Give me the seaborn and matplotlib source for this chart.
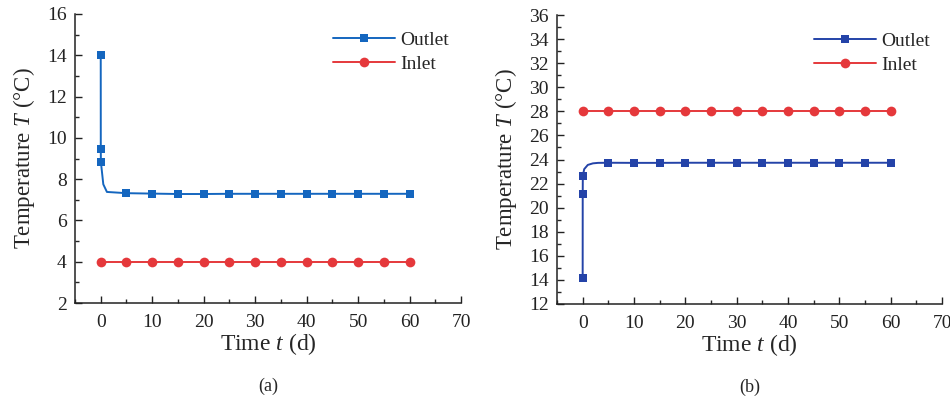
import matplotlib
matplotlib.use("Agg")
import matplotlib.pyplot as plt
from matplotlib.ticker import MultipleLocator
import seaborn as sns
import pandas as pd

# ---- data -------------------------------------------------------------
# (a) cold condition
t_out_a = [0, 0.01, 0.03, 0.5, 1.2, 5, 10, 15, 20, 25, 30, 35, 40, 45, 50, 55, 60]
T_out_a = [14.0, 9.44, 8.83, 7.75, 7.38, 7.32, 7.30, 7.28, 7.28, 7.29, 7.29, 7.29,
           7.29, 7.29, 7.29, 7.29, 7.29]
mark_a = [0, 1, 2, 5, 6, 7, 8, 9, 10, 11, 12, 13, 14, 15, 16]

t_in = [0, 5, 10, 15, 20, 25, 30, 35, 40, 45, 50, 55, 60]
T_in_a = [4.0] * 13

# (b) hot condition
t_out_b = [0, 0.01, 0.03, 0.3, 1, 2, 3, 5, 10, 15, 20, 25, 30, 35, 40, 45, 50, 55, 60]
T_out_b = [14.13, 21.11, 22.65, 23.2, 23.55, 23.68, 23.72, 23.73, 23.72, 23.72, 23.73,
           23.73, 23.73, 23.73, 23.73, 23.73, 23.73, 23.73, 23.73]
mark_b = [0, 1, 2, 7, 8, 9, 10, 11, 12, 13, 14, 15, 16, 17, 18]

T_in_b = [28.0] * 13

ylims = [(2, 16), (12, 36)]
captions = ["(a)", "(b)"]

# ---- style ------------------------------------------------------------
sns.set_theme(style="ticks")
plt.rcParams["font.family"] = ["Liberation Serif", "DejaVu Serif"]
plt.rcParams["mathtext.fontset"] = "custom"
plt.rcParams["mathtext.it"] = "Liberation Serif:italic"
plt.rcParams["mathtext.rm"] = "Liberation Serif"

fig = plt.figure(figsize=(9.5, 4.05), dpi=100)
W, H = 950, 405
boxes = [(75, 14, 461, 303), (557, 15, 942, 304)]
axes = [fig.add_axes([x0 / W, 1 - y1 / H, (x1 - x0) / W, (y1 - y0) / H]) for x0, y0, x1, y1 in boxes]

out_colors = ["#1466bf", "#2443a8"]
in_color = "#e5383b"

series = [
    (t_out_a, T_out_a, mark_a, T_in_a),
    (t_out_b, T_out_b, mark_b, T_in_b),
]

for i, (ax, (tx, ty, mk, tin)) in enumerate(zip(axes, series)):
    df_out = pd.DataFrame({"t": tx, "T": ty})
    df_in = pd.DataFrame({"t": t_in, "T": tin})
    sns.lineplot(data=df_out, x="t", y="T", ax=ax, color=out_colors[i], lw=1.4,
                 marker="s", markersize=6, markevery=mk, markeredgewidth=0,
                 estimator=None, sort=False, label="Outlet")
    sns.lineplot(data=df_in, x="t", y="T", ax=ax, color=in_color, lw=1.4,
                 marker="o", markersize=7, markeredgewidth=0,
                 estimator=None, sort=False, label="Inlet")

    ax.set_xlim(-5, 70)
    ax.set_ylim(*ylims[i])
    ax.xaxis.set_major_locator(MultipleLocator(10))
    ax.xaxis.set_minor_locator(MultipleLocator(5))
    ax.yaxis.set_major_locator(MultipleLocator(2))
    ax.yaxis.set_minor_locator(MultipleLocator(1))
    ax.tick_params(which="major", direction="in", length=5, width=1, labelsize=14,
                   colors="#222222")
    ax.tick_params(axis="x", which="major", pad=8)
    ax.tick_params(axis="y", which="major", pad=6)
    ax.tick_params(which="minor", direction="in", length=3, width=1)
    for s in ["top", "right"]:
        ax.spines[s].set_visible(False)
    for s in ["left", "bottom"]:
        ax.spines[s].set_linewidth(1.1)
        ax.spines[s].set_color("#222222")

    ax.set_xlabel(r"Time $t$ (d)", fontsize=17, labelpad=0)
    ax.set_ylabel("Temperature $T$ (°C)", fontsize=16.5, labelpad=7)

    leg = ax.legend(loc="upper right", bbox_to_anchor=(1.0, 0.98), frameon=False,
                    fontsize=14, handlelength=3.2, handletextpad=0.3,
                    labelspacing=0.3, borderaxespad=0.2)

    ax.text(0.5, -0.26, captions[i], transform=ax.transAxes, ha="center",
            va="top", fontsize=13)

fig.savefig("out.png", dpi=100)
